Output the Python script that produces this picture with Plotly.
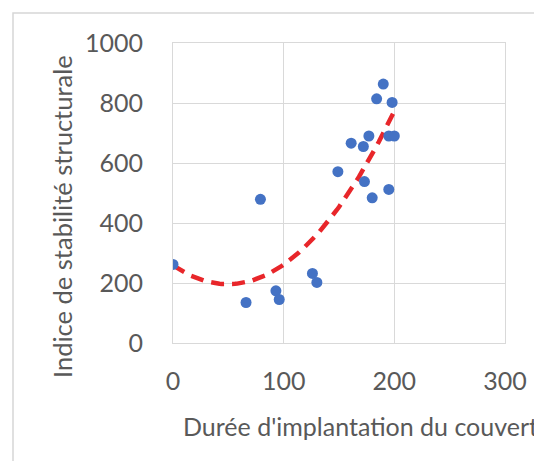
import numpy as np
import plotly.graph_objects as go

# Data
duree = [0, 66, 79, 93, 96, 126, 130, 149, 161, 172, 177, 173, 180, 184, 190, 195, 195, 200, 198]
indice = [262, 135, 479, 174, 145, 232, 202, 571, 666, 655, 690, 538, 484, 814, 863, 512, 690, 690, 802]

x_ticks = [0, 100, 200, 300]
y_ticks = [0, 200, 400, 600, 800, 1000]

x_title = "Durée d'implantation du couvert"
y_title = "Indice de stabilité structurale"

# Polynomial (order 2) trend line, as in the source spreadsheet
coef = np.polyfit(duree, indice, 2)
xt = np.linspace(0, 200, 101)
yt = np.polyval(coef, xt)

OFF = 8  # page body margin
W, H = 542 - OFF, 461 - OFF
L, R, T, B = 173 - OFF, 505 - OFF, 43 - OFF, 343 - OFF

def px(xp):  # page x -> paper fraction
    return (xp - OFF - L) / (R - L)

def py(yp):  # page y -> paper fraction
    return (B - (yp - OFF)) / (B - T)

fig = go.Figure()
fig.add_trace(go.Scatter(
    x=xt, y=yt, mode="lines",
    line=dict(color="#E8262A", width=4.5, dash="13px,8px"),
    hoverinfo="skip", showlegend=False))
fig.add_trace(go.Scatter(
    x=duree, y=indice, mode="markers",
    marker=dict(color="#4472C4", size=11, line=dict(width=0)),
    showlegend=False))

grid = "#D9D9D9"
font = dict(family="Lato, Open Sans, sans-serif", color="#595959")

fig.update_xaxes(range=[0, 300], tickvals=x_ticks, showgrid=True, gridcolor=grid, gridwidth=1,
                 zeroline=False, showline=True, linecolor=grid, mirror=True,
                 ticks="", tickfont=dict(size=25, **font), ticklabelstandoff=16)
fig.update_yaxes(range=[0, 1000], tickvals=y_ticks, showgrid=True, gridcolor=grid, gridwidth=1,
                 zeroline=False, showline=True, linecolor=grid, mirror=True,
                 ticks="", tickfont=dict(size=25, **font), ticklabelstandoff=24)

fig.add_annotation(text=x_title, xref="paper", yref="paper",
                   x=px(181), y=py(426),
                   xanchor="left", yanchor="middle", showarrow=False,
                   font=dict(size=25, **font))
fig.add_annotation(text=y_title, xref="paper", yref="paper",
                   x=px(62), y=py(217),
                   xanchor="center", yanchor="middle", textangle=-90, showarrow=False,
                   font=dict(size=25.5, **font))

# outer chart frame
fig.add_shape(type="rect", xref="paper", yref="paper",
              x0=px(13), y0=py(480), x1=px(580), y1=py(13),
              line=dict(color="#D6D6D6", width=1.5), layer="below")

fig.update_layout(width=W, height=H, margin=dict(l=L, r=W - R, t=T, b=H - B, autoexpand=False),
                  plot_bgcolor="white", paper_bgcolor="white", showlegend=False)

fig.write_html("out.html")
